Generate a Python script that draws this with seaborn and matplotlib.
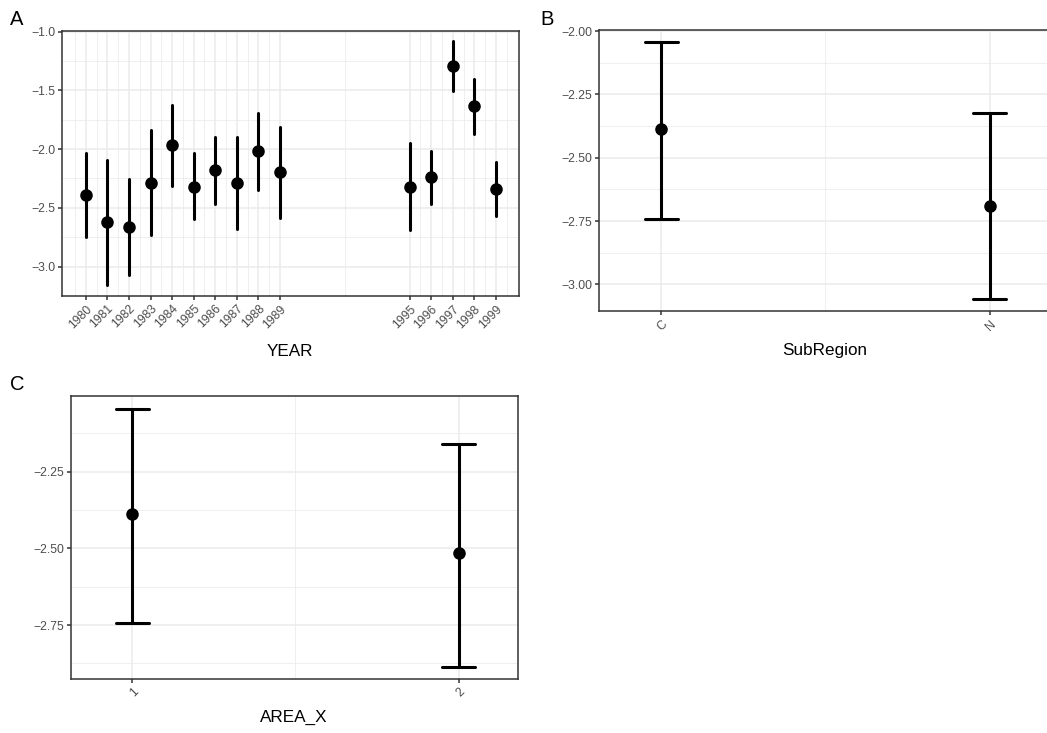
import numpy as np
import pandas as pd
import matplotlib
matplotlib.use("Agg")
import matplotlib.pyplot as plt
import seaborn as sns

# ---------------- data ----------------
years = [1980, 1981, 1982, 1983, 1984, 1985, 1986, 1987, 1988, 1989,
         1995, 1996, 1997, 1998, 1999]
year_est = [-2.390, -2.624, -2.667, -2.291, -1.966, -2.319, -2.181, -2.288,
            -2.020, -2.195, -2.325, -2.240, -1.291, -1.636, -2.336]
year_lo = [-2.749, -3.155, -3.071, -2.729, -2.314, -2.596, -2.466, -2.681,
           -2.347, -2.585, -2.692, -2.466, -1.503, -1.870, -2.573]
year_hi = [-2.037, -2.096, -2.251, -1.839, -1.624, -2.031, -1.898, -1.893,
           -1.692, -1.814, -1.952, -2.017, -1.076, -1.407, -2.107]

subregions = ["C", "N"]
sub_est = [-2.387, -2.689]
sub_lo = [-2.742, -3.057]
sub_hi = [-2.045, -2.325]

areas = ["1", "2"]
area_est = [-2.388, -2.516]
area_lo = [-2.742, -2.886]
area_hi = [-2.046, -2.160]


def long_frame(name, cats, est, lo, hi):
    rows = []
    for c, e, l, h in zip(cats, est, lo, hi):
        for v in (l, e, h):
            rows.append({name: c, "value": v})
    return pd.DataFrame(rows)


df_year = long_frame("YEAR", years, year_est, year_lo, year_hi)
df_sub = long_frame("SubRegion", subregions, sub_est, sub_lo, sub_hi)
df_area = long_frame("AREA_X", areas, area_est, area_lo, area_hi)

# ---------------- style ----------------
sns.set_theme(style="white")
plt.rcParams["font.family"] = ["Liberation Sans", "DejaVu Sans"]

W, H = 1047, 733
fig = plt.figure(figsize=(W / 100, H / 100), dpi=100)


def px_axes(left, top, right, bottom):
    return fig.add_axes([left / W, 1 - bottom / H, (right - left) / W, (bottom - top) / H])


axA = px_axes(62, 31, 519, 296)
axB = px_axes(599, 30.3, 1052, 311)
axC = px_axes(71, 396, 517.7, 679)

grid_major = "#EBEBEB"
tick_col = "#4D4D4D"
edge_col = "#333333"

rng = lambda v: (np.min(v), np.max(v))

common = dict(y="value", estimator="median", errorbar=rng, color="black",
              markers="o", linestyles="none", markersize=7.0,
              err_kws={"linewidth": 2.2})

sns.pointplot(data=df_year, x="YEAR", ax=axA, native_scale=True, **common)
sns.pointplot(data=df_sub, x="SubRegion", ax=axB, order=subregions, capsize=0.1, **common)
sns.pointplot(data=df_area, x="AREA_X", ax=axC, order=areas, capsize=0.1, **common)

TICK_FS = 8.8


def style(ax, xmajor, xminor, ymajor, yminor, xlim, ylim, xlabels, ylabels):
    ax.set_xlim(*xlim)
    ax.set_ylim(*ylim)
    ax.set_xticks(xmajor)
    ax.set_xticklabels(xlabels, rotation=45, ha="right", rotation_mode="anchor",
                       fontsize=TICK_FS, color=tick_col)
    ax.set_xticks(xminor, minor=True)
    ax.set_yticks(ymajor)
    ax.set_yticklabels(ylabels, fontsize=TICK_FS, color=tick_col)
    ax.set_yticks(yminor, minor=True)
    ax.grid(True, which="major", color=grid_major, linewidth=1.1, zorder=0)
    ax.grid(True, which="minor", color=grid_major, linewidth=0.55, zorder=0)
    ax.set_axisbelow(True)
    ax.tick_params(which="major", length=2.75, width=1.1, color=edge_col, pad=2.2,
                   bottom=True, left=True)
    ax.tick_params(which="minor", length=0)
    for s in ax.spines.values():
        s.set_color(edge_col)
        s.set_linewidth(1.1)
        s.set_visible(True)
    ax.set_xlabel("")
    ax.set_ylabel("")


style(axA, years,
      [1979.5] + [y + 0.5 for y in range(1980, 1989)] + [1992] + [y + 0.5 for y in range(1995, 2000)],
      [-1.0, -1.5, -2.0, -2.5, -3.0], [-1.25, -1.75, -2.25, -2.75, -3.25],
      (1978.9, 2000.07), (-3.236, -0.995),
      [str(y) for y in years], ["\u22121.0", "\u22121.5", "\u22122.0", "\u22122.5", "\u22123.0"])

style(axB, [0, 1], [0.5],
      [-2.0, -2.25, -2.5, -2.75, -3.0], [-2.125, -2.375, -2.625, -2.875],
      (-0.189, 1.19), (-3.105, -1.997),
      subregions, ["\u22122.00", "\u22122.25", "\u22122.50", "\u22122.75", "\u22123.00"])

style(axC, [0, 1], [0.5],
      [-2.25, -2.5, -2.75], [-2.125, -2.375, -2.625, -2.875],
      (-0.188, 1.181), (-2.926, -2.003),
      areas, ["\u22122.25", "\u22122.50", "\u22122.75"])

# axis titles
TITLE_FS = 12.3
fig.text(290 / W, 1 - 352 / H, "YEAR", ha="center", va="center", fontsize=TITLE_FS, color="black")
fig.text(825 / W, 1 - 351 / H, "SubRegion", ha="center", va="center", fontsize=TITLE_FS, color="black")
fig.text(294 / W, 1 - 717 / H, "AREA_X", ha="center", va="center", fontsize=TITLE_FS, color="black")

# panel tags
TAG_FS = 14.5
fig.text(10 / W, 1 - 19.5 / H, "A", ha="left", va="center", fontsize=TAG_FS, color="black")
fig.text(540 / W, 1 - 19.5 / H, "B", ha="left", va="center", fontsize=TAG_FS, color="black")
fig.text(10 / W, 1 - 385 / H, "C", ha="left", va="center", fontsize=TAG_FS, color="black")

fig.savefig("out.png", dpi=100, facecolor="white")
